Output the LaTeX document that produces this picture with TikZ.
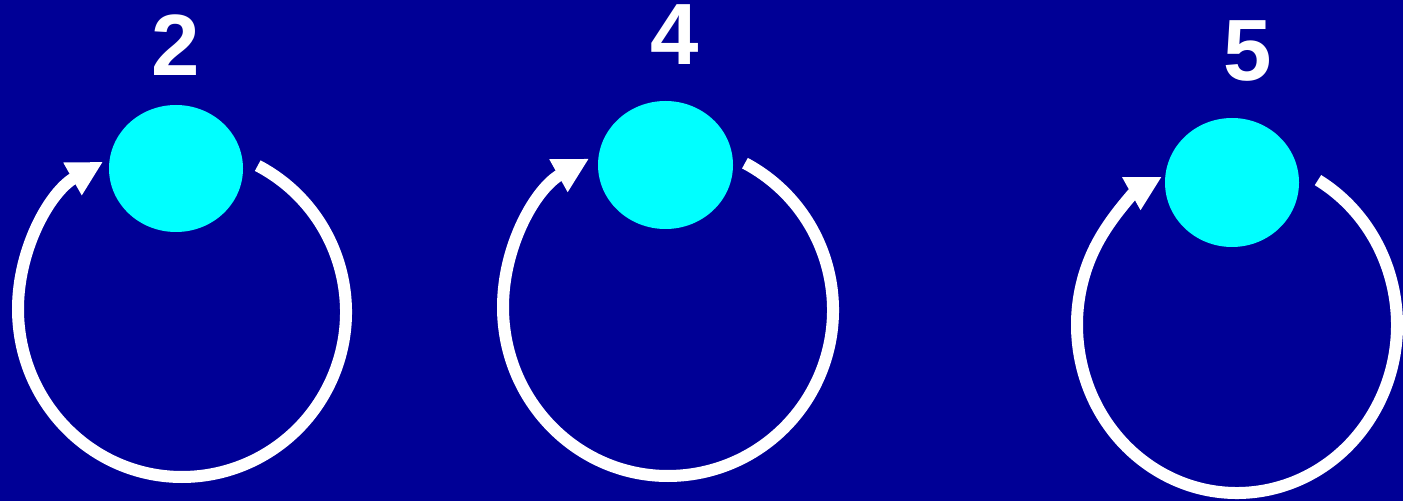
\documentclass[tikz,border=0pt]{standalone}
\usepackage{fontspec}
\setmainfont{Liberation Sans}
\usetikzlibrary{arrows.meta,shapes.geometric}
\definecolor{bgblue}{RGB}{0,0,150}
\definecolor{nodecyan}{RGB}{0,255,255}
\tikzset{
  statenode/.style={ellipse, fill=nodecyan, draw=none, inner sep=0pt},
  numlabel/.style={text=white, inner sep=0pt, anchor=base, font=\bfseries\fontsize{87}{87}\selectfont},
  loopline/.style={draw=white, line width=12pt, line cap=butt, -{Triangle[length=35pt,width=35pt]}},
}
\begin{document}
\begin{tikzpicture}[x=1pt,y=1pt]
\fill[bgblue] (0,0) rectangle (1403,501);
\useasboundingbox (0,0) rectangle (1403,501);

% nodes
\node[statenode, minimum width=134pt, minimum height=127pt] (e1) at (176,332.5) {};
\node[statenode, minimum width=135pt, minimum height=128pt] (e2) at (665.5,336) {};
\node[statenode, minimum width=134pt, minimum height=129pt] (e3) at (1232,318.5) {};

% labels
\node[numlabel] (l1) at (176,425.5) {2};
\node[numlabel] (l2) at (675,436) {4};
\node[numlabel] (l3) at (1248,420.5) {5};

% loop start points
\coordinate (s1) at ({182+164*cos(62.5)},{189+165*sin(62.5)});
\coordinate (s2) at ({668+165*cos(62.2)},{191+166*sin(62.2)});
\coordinate (s3) at ({1237+160*cos(59.6)},{176+168*sin(59.6)});

% loops
\draw[loopline] (s1) arc[start angle=62.5, end angle=-90, x radius=164pt, y radius=165pt]
  arc[start angle=-90, end angle=-241.2, x radius=164pt, y radius=168pt];
\draw[loopline] (s2) arc[start angle=62.2, end angle=-90, x radius=165pt, y radius=166pt]
  arc[start angle=-90, end angle=-241.4, x radius=165pt, y radius=169pt];
\draw[loopline] (s3) arc[start angle=59.6, end angle=-242, x radius=160pt, y radius=168pt];
\end{tikzpicture}
\end{document}
